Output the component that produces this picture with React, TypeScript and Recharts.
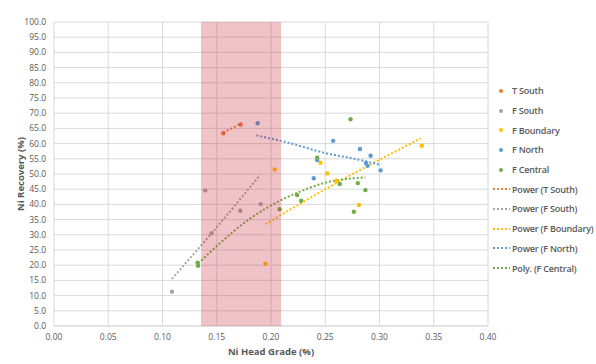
import {
  ComposedChart,
  Scatter,
  Line,
  XAxis,
  YAxis,
  CartesianGrid,
  ReferenceArea,
  Label,
} from "recharts";

// measured points
const tSouthX = [0.156, 0.172];
const tSouthY = [63.4, 66.3];

const fSouthX = [0.1087, 0.1394, 0.1453, 0.1717, 0.1905];
const fSouthY = [11.3, 44.6, 30.5, 37.9, 40.1];

const fBoundaryX = [0.1948, 0.2034, 0.2456, 0.2518, 0.2604, 0.281, 0.339];
const fBoundaryY = [20.5, 51.5, 53.7, 50.2, 47.8, 39.8, 59.3];

const fNorthX = [0.1877, 0.2394, 0.2426, 0.2573, 0.282, 0.2918, 0.2875, 0.289, 0.301];
const fNorthY = [66.7, 48.6, 54.6, 60.9, 58.2, 56.0, 53.6, 52.7, 51.2];

const fCentralX = [0.1323, 0.1328, 0.208, 0.224, 0.2278, 0.2426, 0.2634, 0.2733, 0.2764, 0.28, 0.287];
const fCentralY = [20.8, 19.8, 38.4, 43.1, 41.2, 55.4, 46.7, 68.0, 37.6, 47.0, 44.7];

// trendlines
const trendTSouthX = [0.156, 0.172];
const trendTSouthY = [63.6, 66.5];
const trendFSouthX = [0.1087, 0.15, 0.19];
const trendFSouthY = [15.5, 32.5, 49.7];
const trendFBoundaryX = [0.195, 0.265, 0.338];
const trendFBoundaryY = [33.5, 48.0, 61.7];
const trendFNorthX = [0.1865, 0.218, 0.2487, 0.2795, 0.301];
const trendFNorthY = [62.7, 60.1, 57.0, 54.8, 53.0];
const trendFCentralX = [0.133, 0.15, 0.181, 0.2087, 0.228, 0.2487, 0.287];
const trendFCentralY = [20.6, 26.3, 35.4, 41.3, 44.4, 47.0, 48.9];

const xTicks = [0, 0.05, 0.1, 0.15, 0.2, 0.25, 0.3, 0.35, 0.4];
const yTicks = [0, 5, 10, 15, 20, 25, 30, 35, 40, 45, 50, 55, 60, 65, 70, 75, 80, 85, 90, 95, 100];

const bandX = [0.1355, 0.2093];

const zip = (xs: number[], ys: number[]) => xs.map((x, i) => ({ x, y: ys[i] }));

const series = [
  { name: "T South", color: "#ED7D31", data: zip(tSouthX, tSouthY) },
  { name: "F South", color: "#A5A5A5", data: zip(fSouthX, fSouthY) },
  { name: "F Boundary", color: "#FFC000", data: zip(fBoundaryX, fBoundaryY) },
  { name: "F North", color: "#5B9BD5", data: zip(fNorthX, fNorthY) },
  { name: "F Central", color: "#70AD47", data: zip(fCentralX, fCentralY) },
];

const trends = [
  { name: "Power (T South)", color: "#ED7D31", data: zip(trendTSouthX, trendTSouthY) },
  { name: "Power (F South)", color: "#A5A5A5", data: zip(trendFSouthX, trendFSouthY) },
  { name: "Power (F Boundary)", color: "#FFC000", data: zip(trendFBoundaryX, trendFBoundaryY) },
  { name: "Power (F North)", color: "#5B9BD5", data: zip(trendFNorthX, trendFNorthY) },
  { name: "Poly. (F Central)", color: "#70AD47", data: zip(trendFCentralX, trendFCentralY) },
];

const FONT = "'Open Sans', 'Liberation Sans', sans-serif";
const TEXT = "#595959";

const Dot = (props: any) => {
  const { cx, cy, fill } = props;
  if (cx == null || cy == null) return null;
  return <circle cx={cx} cy={cy} r={2.2} fill={fill} />;
};

const LegendBox = () => {
  const rows = [
    ...series.map((s) => ({ name: s.name, color: s.color, line: false })),
    ...trends.map((t) => ({ name: t.name, color: t.color, line: true })),
  ];
  return (
    <div
      style={{
        position: "absolute",
        left: 493,
        top: 81,
        fontFamily: FONT,
        fontSize: 9,
        fontWeight: 600,
        color: TEXT,
      }}
    >
      {rows.map((r) => (
        <div key={r.name} style={{ display: "flex", alignItems: "center", height: 19.7 }}>
          <svg width={18} height={10} style={{ marginRight: 1 }}>
            {r.line ? (
              <line x1={0} y1={5} x2={17} y2={5} stroke={r.color} strokeWidth={2} strokeDasharray="2 2" />
            ) : (
              <circle cx={8} cy={5} r={2} fill={r.color} />
            )}
          </svg>
          <span style={{ whiteSpace: "nowrap", letterSpacing: -0.2 }}>{r.name}</span>
        </div>
      ))}
    </div>
  );
};

export default function App() {
  return (
    <div style={{ position: "absolute", left: 0, top: 0, width: 596, height: 364, background: "#fff" }}>
      <ComposedChart
        width={596}
        height={364}
        margin={{ top: 22, right: 108, bottom: 0, left: 0 }}
      >
        <CartesianGrid stroke="#D9D9D9" />
        <XAxis
          type="number"
          dataKey="x"
          domain={[0, 0.4]}
          ticks={xTicks}
          tickFormatter={(v: number) => v.toFixed(2)}
          tick={{ fontSize: 8.5, fill: TEXT, fontFamily: FONT }}
          tickLine={false}
          tickSize={0}
          tickMargin={8}
          axisLine={{ stroke: "#D9D9D9" }}
          height={38}
          allowDataOverflow
        >
          <Label
            value="Ni Head Grade (%)"
            position="insideBottom"
            offset={9}
            style={{ fontSize: 9.5, fontWeight: 700, fill: TEXT, fontFamily: FONT }}
          />
        </XAxis>
        <YAxis
          type="number"
          dataKey="y"
          domain={[0, 100]}
          ticks={yTicks}
          interval={0}
          tickFormatter={(v: number) => v.toFixed(1)}
          tick={{ fontSize: 8.5, fill: TEXT, fontFamily: FONT }}
          tickLine={false}
          tickSize={0}
          tickMargin={8}
          axisLine={false}
          width={54}
          allowDataOverflow
        >
          <Label
            value="Ni Recovery (%)"
            angle={-90}
            position="insideLeft"
            offset={21}
            style={{ fontSize: 9.5, fontWeight: 700, fill: TEXT, fontFamily: FONT, textAnchor: "middle" }}
          />
        </YAxis>
        {series.map((s) => (
          <Scatter
            key={s.name}
            name={s.name}
            data={s.data}
            fill={s.color}
            shape={<Dot />}
            isAnimationActive={false}
          />
        ))}
        {trends.map((t) => (
          <Line
            key={t.name}
            name={t.name}
            data={t.data}
            dataKey="y"
            type="monotone"
            stroke={t.color}
            strokeWidth={2}
            strokeDasharray="2 2"
            dot={false}
            activeDot={false}
            isAnimationActive={false}
          />
        ))}
        <ReferenceArea
          x1={bandX[0]}
          x2={bandX[1]}
          y1={0}
          y2={100}
          fill="#C8283C"
          fillOpacity={0.28}
          stroke="none"
          zIndex={1000}
        />
      </ComposedChart>
      <LegendBox />
    </div>
  );
}
